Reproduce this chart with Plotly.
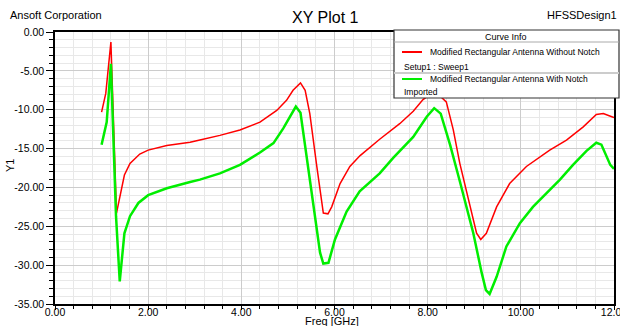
import plotly.graph_objects as go

# ---------------- data ----------------
freq_without = [1.0, 1.09, 1.2, 1.32, 1.49, 1.61, 1.82, 2.0, 2.4, 2.9, 3.11, 3.54, 3.97, 4.4, 4.76,
                4.97, 5.11, 5.27, 5.37, 5.47, 5.62, 5.76, 5.86, 5.94, 6.12, 6.33, 6.55, 6.97, 7.4,
                7.69, 7.9, 8.15, 8.4, 8.55, 8.69, 8.91, 9.05, 9.14, 9.26, 9.48, 9.76, 10.12, 10.62,
                10.98, 11.34, 11.62, 11.77, 11.91, 12.0]
db_without = [-10.3, -7.9, -1.3, -23.3, -18.4, -16.9, -15.7, -15.2, -14.6, -14.2, -13.9, -13.3, -12.6,
              -11.6, -10.1, -8.8, -7.5, -6.55, -7.5, -10.5, -17.3, -23.3, -23.4, -22.5, -19.5, -17.3,
              -15.9, -13.8, -11.8, -10.2, -8.7, -7.6, -9.0, -12.6, -16.9, -22.5, -25.9, -26.7, -25.9,
              -22.5, -19.5, -17.3, -15.2, -13.9, -12.2, -10.6, -10.5, -10.8, -11.0]

freq_with = [1.0, 1.11, 1.2, 1.31, 1.39, 1.49, 1.61, 1.79, 2.0, 2.4, 2.9, 3.11, 3.54, 3.97, 4.4, 4.69,
             4.9, 5.17, 5.27, 5.4, 5.55, 5.69, 5.76, 5.87, 6.01, 6.26, 6.54, 6.97, 7.26, 7.69, 7.98,
             8.14, 8.28, 8.48, 8.69, 8.98, 9.16, 9.25, 9.33, 9.48, 9.69, 9.98, 10.26, 10.55, 10.84,
             11.12, 11.41, 11.62, 11.73, 11.92, 12.0]
db_with = [-14.5, -11.6, -4.1, -23.7, -32.1, -25.9, -23.7, -22.0, -21.0, -20.1, -19.3, -19.0, -18.2,
           -17.1, -15.5, -14.3, -12.4, -9.6, -10.4, -16.0, -22.9, -28.4, -29.8, -29.7, -26.7, -23.1,
           -20.5, -18.2, -16.2, -13.5, -10.9, -9.8, -10.5, -14.5, -19.2, -25.9, -31.0, -33.2, -33.7,
           -31.5, -27.6, -24.6, -22.5, -20.7, -19.0, -17.1, -15.3, -14.25, -14.5, -17.1, -17.6]

series_names = ["Modified Rectangular Antenna Without Notch", "Modified Rectangular Antenna With Notch"]
series_sub = ["Setup1 : Sweep1", "Imported"]
series_colors = ["#ff0000", "#00ee00"]

x_tickvals = [0, 2, 4, 6, 8, 10, 12]
x_ticktext = ["0.00", "2.00", "4.00", "6.00", "8.00", "10.00", "12.00"]
y_tickvals = [0, -5, -10, -15, -20, -25, -30, -35]
y_ticktext = ["0.00", "-5.00", "-10.00", "-15.00", "-20.00", "-25.00", "-30.00", "-35.00"]

# ---------------- figure ----------------
W, H = 620, 326
L, R, T, B = 55, 6, 32, 22
pw, ph = W - L - R, H - T - B


def px(x):
    return (x - L) / pw


def py(y):
    return (H - B - y) / ph


FONT = "Liberation Sans, Arial, sans-serif"

fig = go.Figure()
fig.add_trace(go.Scatter(x=freq_without, y=db_without, mode="lines", name=series_names[0],
                         line=dict(color=series_colors[0], width=1.5)))
fig.add_trace(go.Scatter(x=freq_with, y=db_with, mode="lines", name=series_names[1],
                         line=dict(color=series_colors[1], width=2.5)))

axis_common = dict(showline=True, linecolor="black", linewidth=1.5, mirror=True,
                   ticks="outside", tickcolor="black", tickwidth=1, automargin=False,
                   ticklabeloverflow="allow",
                   showgrid=True, gridcolor="#cccccc", gridwidth=1, zeroline=False,
                   tickfont=dict(family=FONT, size=10.5, color="black"))

fig.update_xaxes(range=[0, 12], tickvals=x_tickvals, ticktext=x_ticktext, ticklen=4,
                 ticklabelstandoff=-6,
                 minor=dict(dtick=0.4, tick0=0, ticks="outside", ticklen=3, tickcolor="black",
                            showgrid=True, gridcolor="#e8e8e8", gridwidth=1),
                 **axis_common)
fig.update_yaxes(range=[-35, 0], tickvals=y_tickvals, ticktext=y_ticktext, ticklen=7,
                 minor=dict(dtick=1, tick0=0, ticks="outside", ticklen=4, tickcolor="black",
                            showgrid=True, gridcolor="#e8e8e8", gridwidth=1),
                 **axis_common)

shapes = []
annotations = []

# header texts
annotations.append(dict(text="Ansoft Corporation", x=px(8), y=py(15), xref="paper", yref="paper",
                        xanchor="left", yanchor="middle", showarrow=False,
                        font=dict(family=FONT, size=11, color="black")))
annotations.append(dict(text="XY Plot 1", x=px(325), y=py(18), xref="paper", yref="paper",
                        xanchor="center", yanchor="middle", showarrow=False,
                        font=dict(family=FONT, size=16, color="black")))
annotations.append(dict(text="HFSSDesign1", x=px(619), y=py(15), xref="paper", yref="paper",
                        xanchor="right", yanchor="middle", showarrow=False,
                        font=dict(family=FONT, size=11, color="black")))
# axis titles
annotations.append(dict(text="Y1", x=px(10), y=py(166), xref="paper", yref="paper",
                        xanchor="center", yanchor="middle", showarrow=False, textangle=-90,
                        font=dict(family=FONT, size=11, color="black")))
annotations.append(dict(text="Freq [GHz]", x=px(332), y=py(321), xref="paper", yref="paper",
                        xanchor="center", yanchor="middle", showarrow=False,
                        font=dict(family=FONT, size=11, color="black")))

# legend box ("Curve Info")
bx0, bx1, by0, by1 = 394, 619, 30, 98
shapes.append(dict(type="rect", xref="paper", yref="paper", x0=px(bx0), x1=px(bx1),
                   y0=py(by1), y1=py(by0), fillcolor="white", line=dict(color="#333333", width=1.2)))
shapes.append(dict(type="line", xref="paper", yref="paper", x0=px(bx0), x1=px(bx1),
                   y0=py(42), y1=py(42), line=dict(color="#aaaaaa", width=1)))
shapes.append(dict(type="line", xref="paper", yref="paper", x0=px(bx0), x1=px(bx1),
                   y0=py(73), y1=py(73), line=dict(color="#cccccc", width=2)))
annotations.append(dict(text="Curve Info", x=px(506), y=py(37), xref="paper", yref="paper",
                        xanchor="center", yanchor="middle", showarrow=False,
                        font=dict(family=FONT, size=9, color="black")))
row_y = [(52, 67), (79, 92)]
for i in range(2):
    ly, sy = row_y[i]
    shapes.append(dict(type="line", xref="paper", yref="paper", x0=px(402), x1=px(422),
                       y0=py(ly), y1=py(ly), line=dict(color=series_colors[i], width=2)))
    annotations.append(dict(text=series_names[i], x=px(428), y=py(ly), xref="paper", yref="paper",
                            xanchor="left", yanchor="middle", showarrow=False,
                            font=dict(family=FONT, size=8.5, color="black")))
    annotations.append(dict(text=series_sub[i], x=px(402), y=py(sy), xref="paper", yref="paper",
                            xanchor="left", yanchor="middle", showarrow=False,
                            font=dict(family=FONT, size=8.5, color="black")))

fig.update_layout(width=W, height=H, margin=dict(l=L, r=R, t=T, b=B, autoexpand=False),
                  paper_bgcolor="white", plot_bgcolor="white", showlegend=False,
                  shapes=shapes, annotations=annotations,
                  font=dict(family=FONT, size=11, color="black"))

fig.write_html("out.html", config={"displayModeBar": False},
               post_script="document.body.style.margin='0px';document.body.style.overflow='hidden';")
